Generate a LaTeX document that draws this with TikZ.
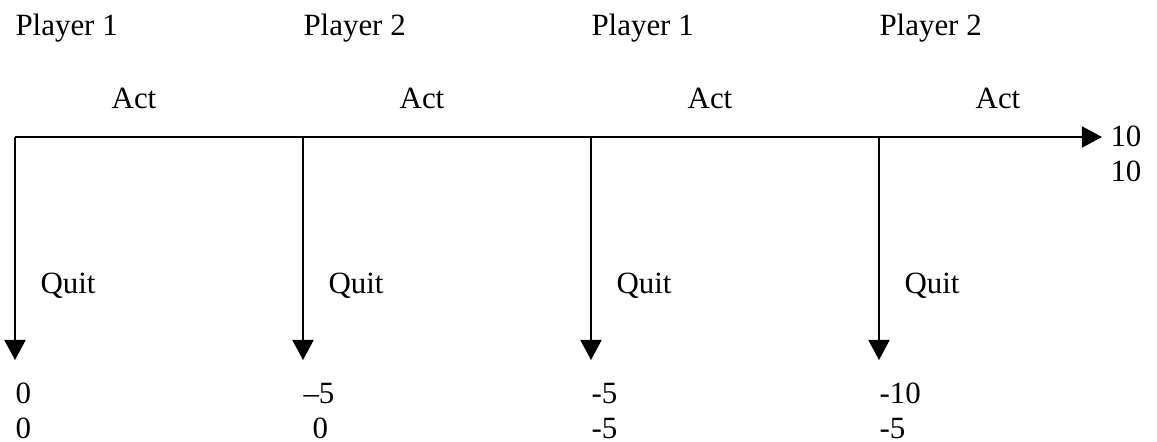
\documentclass[tikz,border=0pt]{standalone}
\usepackage{fontspec}
\setmainfont{Liberation Serif}
\usetikzlibrary{arrows.meta}

\begin{document}
\begin{tikzpicture}[
    x=0.388pt,
    y=-0.388pt,
    player/.style={
        inner sep=0pt,
        anchor=base west,
        font=\fontsize{12}{14}\selectfont
    },
    choice/.style={
        inner sep=0pt,
        anchor=base,
        font=\fontsize{12}{14}\selectfont
    },
    payoff/.style={
        inner sep=0pt,
        anchor=base west,
        font=\fontsize{12}{14}\selectfont
    },
    move/.style={
        -{Triangle[length=7.8pt, width=8.2pt]},
        line width=0.6pt,
        black
    },
]
\useasboundingbox (0,0) rectangle (1157,441);

% decision points on the line
\coordinate (d1) at (15,137);
\coordinate (d2) at (303,137);
\coordinate (d3) at (591,137);
\coordinate (d4) at (879,137);
\coordinate (end) at (1102,137);

% tips of the quit arrows
\coordinate (q1) at (15,360);
\coordinate (q2) at (303,360);
\coordinate (q3) at (591,360);
\coordinate (q4) at (879,360);

\node[player] (pl1) at (15,35) {Player 1};
\node[player] (pl2) at (303,35) {Player 2};
\node[player] (pl3) at (591,35) {Player 1};
\node[player] (pl4) at (879,35) {Player 2};

\node[choice] (act1) at (134,108) {Act};
\node[choice] (act2) at (422,108) {Act};
\node[choice] (act3) at (710,108) {Act};
\node[choice] (act4) at (998,108) {Act};

\node[player] (quit1) at (40,293) {Quit};
\node[player] (quit2) at (328,293) {Quit};
\node[player] (quit3) at (616,293) {Quit};
\node[player] (quit4) at (904,293) {Quit};

\node[payoff] (top_end) at (1110,146) {10};
\node[payoff] (bot_end) at (1110,181) {10};

\node[payoff] (top1) at (15,403) {0};
\node[payoff] (bot1) at (15,438) {0};
\node[payoff] (top2) at (303,403) {–5};
\node[payoff] (bot2) at (312,438) {0};
\node[payoff] (top3) at (591,403) {-5};
\node[payoff] (bot3) at (591,438) {-5};
\node[payoff] (top4) at (879,403) {-10};
\node[payoff] (bot4) at (879,438) {-5};

% act line
\draw[move] (d1) -- (end);

% quit arrows
\draw[move] (d1) -- (q1);
\draw[move] (d2) -- (q2);
\draw[move] (d3) -- (q3);
\draw[move] (d4) -- (q4);

\end{tikzpicture}
\end{document}
